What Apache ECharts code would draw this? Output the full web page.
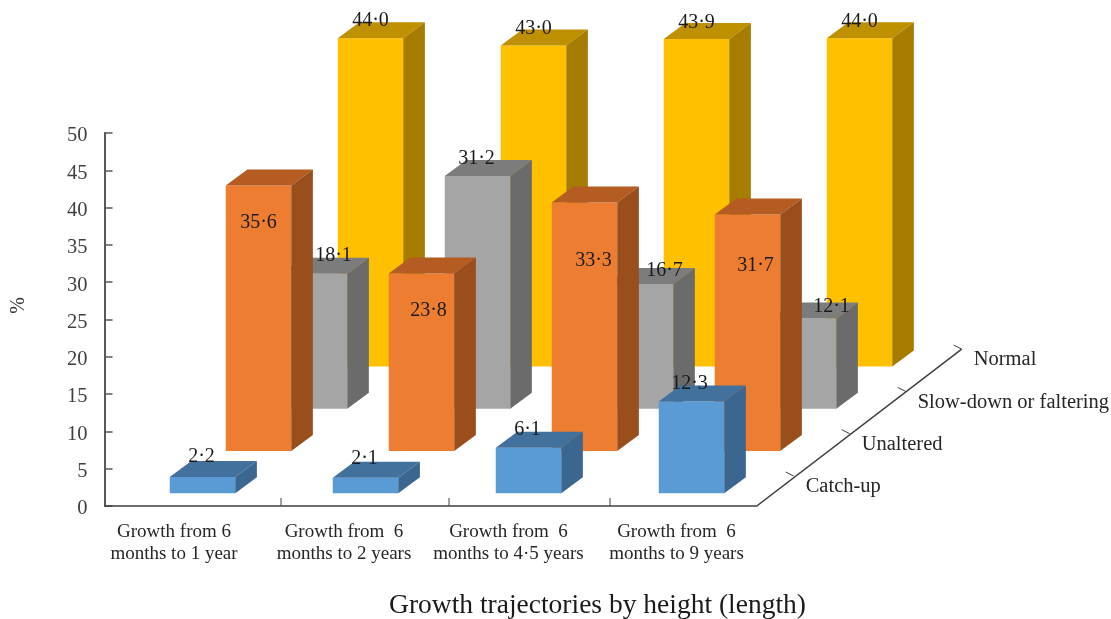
<!DOCTYPE html>
<html>
<head>
<meta charset="utf-8">
<style>html,body{margin:0;padding:0;background:#fff}#chart{width:1111px;height:619px}</style>
<script src="https://cdn.jsdelivr.net/npm/echarts@6/dist/echarts.min.js"></script>
</head>
<body>
<div id="chart"></div>
<script>
// Share of children in each growth trajectory, per follow-up period.
const periods = [
  'Growth from 6\nmonths to 1 year',
  'Growth from  6\nmonths to 2 years',
  'Growth from  6\nmonths to 4·5 years',
  'Growth from  6\nmonths to 9 years'
];
const trajectories = ['Catch-up', 'Unaltered', 'Slow-down or faltering', 'Normal'];
const catchUp = [2.2, 2.1, 6.1, 12.3];
const unaltered = [35.6, 23.8, 33.3, 31.7];
const slowDown = [18.1, 31.2, 16.7, 12.1];
const normal = [44.0, 43.0, 43.9, 44.0];
const yTicks = { min: 0, max: 50, step: 5 };

// Oblique projection: each trajectory row sits further back and to the right.
const ROW_DX = 56, ROW_DY = -42.3, FIRST_DX = 3, FIRST_DY = -12.7;
const BAR_W = 65.5, DEPTH_X = 21.6, DEPTH_Y = -16;
const SERIF = '"Liberation Serif", "Times New Roman", serif';

const rows = [
  { name: trajectories[0], values: catchUp, front: '#5B9BD5', top: '#41719C', side: '#3A668F',
    labelShift: [[-1, -20], [-1, -19], [-1, -18], [-2, -18]] },
  { name: trajectories[1], values: unaltered, front: '#ED7D31', top: '#B45C21', side: '#9A4E1C',
    labelShift: [[0, 37], [7, 37], [9, 58], [8, 51]] },
  { name: trajectories[2], values: slowDown, front: '#A5A5A5', top: '#7C7C7C', side: '#6B6B6B',
    labelShift: [[19, -18], [-1, -17], [24, -13], [28, -12]] },
  { name: trajectories[3], values: normal, front: '#FFC000', top: '#BF9000', side: '#A67D00',
    labelShift: [[0, -17], [0, -17], [0, -16], [0, -16]] }
];

function polygon(points, fill) {
  return { type: 'polygon', shape: { points }, style: { fill, stroke: null } };
}

function valueText(text, x, y) {
  return {
    type: 'text', z2: 10,
    style: { text, x, y, fill: '#1a1a1a', fontFamily: SERIF, fontSize: 20, align: 'center', verticalAlign: 'middle' }
  };
}

// Each bar is three faces (front, top, side) projected from its axis coordinates.
function barRenderer(row, rowIndex) {
  return function (params, api) {
    const cat = api.value(0), val = api.value(1);
    const base = api.coord([cat, 0]), tip = api.coord([cat, val]);
    const ox = FIRST_DX + ROW_DX * rowIndex, oy = FIRST_DY + ROW_DY * rowIndex;
    const l = base[0] + ox - BAR_W / 2, r = l + BAR_W;
    const b = base[1] + oy, t = tip[1] + oy;
    const shift = row.labelShift[params.dataIndex];
    return {
      type: 'group',
      children: [
        polygon([[l, t], [r, t], [r, b], [l, b]], row.front),
        polygon([[l, t], [l + DEPTH_X, t + DEPTH_Y], [r + DEPTH_X, t + DEPTH_Y], [r, t]], row.top),
        polygon([[r, t], [r + DEPTH_X, t + DEPTH_Y], [r + DEPTH_X, b + DEPTH_Y], [r, b]], row.side),
        valueText(val.toFixed(1).replace('.', '·'), (l + r) / 2 + shift[0], t + shift[1])
      ]
    };
  };
}

// Floor frame: baseline, receding depth axis, their ticks and the row names.
const boundaryNudge = [0, 5, 3];
function frameRenderer(params, api) {
  const band = api.size([1, 0])[0];
  const zero = api.coord([0, 0]);
  const firstEdge = zero[0] + band / 2;
  const y0 = zero[1];
  const axisX = zero[0] - band / 2 - 13.5;
  const cornerX = 756.7;
  const endX = cornerX + 37 + ROW_DX * 3, endY = y0 - 30 + ROW_DY * 3;
  const ink = '#3f3f3f';
  const children = [{
    type: 'polyline',
    shape: { points: [[axisX, y0], [cornerX, y0], [endX, endY]] },
    style: { stroke: ink, lineWidth: 1.5, fill: null }
  }];
  boundaryNudge.forEach((nudge, i) => {
    const x = firstEdge + band * i + nudge;
    children.push({ type: 'line', shape: { x1: x, y1: y0, x2: x, y2: y0 - 8 }, style: { stroke: ink, lineWidth: 1 } });
  });
  trajectories.forEach((name, i) => {
    const x = cornerX + 37 + ROW_DX * i, y = y0 - 30 + ROW_DY * i;
    children.push({ type: 'line', shape: { x1: x, y1: y, x2: x - 8, y2: y - 4 }, style: { stroke: ink, lineWidth: 1 } });
    children.push({
      type: 'text',
      style: { text: name, x: x + 12, y: y + 11, fill: '#262626', fontFamily: SERIF, fontSize: 20.5, align: 'left', verticalAlign: 'middle' }
    });
  });
  return { type: 'group', children };
}

// Period labels are not centred on their bands; the padding pulls each one left.
const labelPull = [51, 37, 34, 24];
const periodRich = {};
labelPull.forEach((pull, i) => {
  periodRich['p' + i] = { padding: [0, pull, 0, 0], fontFamily: SERIF, fontSize: 19, lineHeight: 22, color: '#262626' };
});

const chart = echarts.init(document.getElementById('chart'), null, { renderer: 'canvas' });
chart.setOption({
  animation: false,
  backgroundColor: '#fff',
  title: {
    text: 'Growth trajectories by height (length)',
    left: 592.5, top: 587, textAlign: 'center',
    textStyle: { fontFamily: SERIF, fontSize: 27.5, fontWeight: 'normal', color: '#1a1a1a' }
  },
  grid: { left: 118, top: 133, width: 652, height: 373, outerBoundsMode: 'none' },
  xAxis: {
    type: 'category',
    data: periods,
    axisLine: { show: false },
    axisTick: { show: false },
    axisLabel: {
      margin: 15,
      interval: 0,
      hideOverlap: false,
      formatter: (value, index) => value.split('\n').map(s => `{p${index}|${s}}`).join('\n'),
      rich: periodRich
    }
  },
  yAxis: {
    type: 'value',
    min: yTicks.min, max: yTicks.max, interval: yTicks.step,
    offset: 13.5,
    name: '%',
    nameLocation: 'middle',
    nameGap: 76,
    nameRotate: 90,
    nameTextStyle: { fontFamily: SERIF, fontSize: 20, color: '#333', padding: [0, 0, 0, 28] },
    splitLine: { show: false },
    axisLine: { show: true, lineStyle: { color: '#595959', width: 2 } },
    axisTick: { show: true, inside: true, length: 8, lineStyle: { color: '#595959', width: 1.5 } },
    axisLabel: { margin: 17, verticalAlign: 'top', lineHeight: 6, fontFamily: SERIF, fontSize: 20.5, color: '#404040' }
  },
  series: [
    {
      type: 'custom', name: 'frame', silent: true, z: 1,
      renderItem: frameRenderer,
      data: [[0, 0]],
      encode: { x: 0, y: 1 }
    }
  ].concat(rows.map((row, rowIndex) => ({ row, rowIndex })).reverse().map(({ row, rowIndex }) => ({
    type: 'custom',
    name: row.name,
    z: 2,
    renderItem: barRenderer(row, rowIndex),
    data: row.values.map((v, i) => [i, v]),
    encode: { x: 0, y: 1 }
  })))
});
</script>
</body>
</html>
